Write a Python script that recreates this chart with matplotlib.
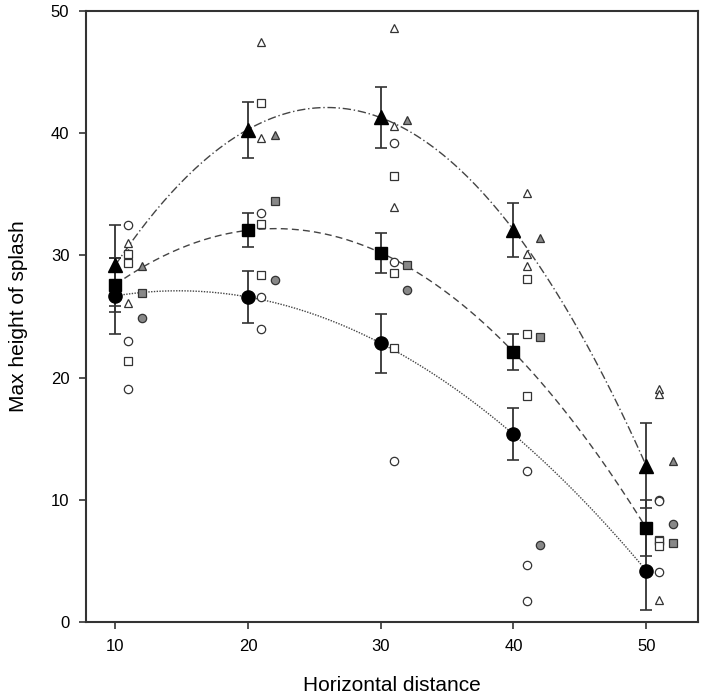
import numpy as np
import matplotlib
matplotlib.use("Agg")
import matplotlib.pyplot as plt

plt.rcParams['font.family'] = ['Liberation Sans', 'DejaVu Sans']

# horizontal distances
dist = [10, 20, 30, 40, 50]

# filled black means with error bars
tri_mean = [29.2, 40.3, 41.3, 32.1, 12.8]
tri_err = [3.3, 2.3, 2.5, 2.2, 3.5]
sq_mean = [27.6, 32.1, 30.2, 22.1, 7.7]
sq_err = [2.2, 1.4, 1.6, 1.5, 2.3]
ci_mean = [26.7, 26.6, 22.8, 15.4, 4.2]
ci_err = [3.1, 2.1, 2.4, 2.1, 3.2]

# replicate values (open symbols, plotted at distance + 1)
tri_reps = [[31.0, 30.2, 26.1], [47.5, 39.6, 32.6], [48.6, 40.6, 34.0],
            [35.1, 30.1, 29.1], [19.1, 18.7, 1.8]]
sq_reps = [[30.1, 29.4, 21.4], [42.5, 32.6, 28.4], [36.5, 28.6, 22.4],
           [28.1, 23.6, 18.5], [6.7, 6.6, 6.2]]
ci_reps = [[32.5, 23.0, 19.1], [33.5, 26.6, 24.0], [39.2, 29.5, 13.2],
           [12.4, 4.7, 1.7], [10.0, 9.9, 4.1]]

# grey symbols (plotted at distance + 2)
tri_grey = [29.1, 39.9, 41.1, 31.4, 13.2]
sq_grey = [26.9, 34.5, 29.2, 23.3, 6.5]
ci_grey = [24.9, 28.0, 27.2, 6.3, 8.0]

fig = plt.figure(figsize=(7.05, 6.95), dpi=100)
ax = fig.add_axes([0.122, 0.105, 0.868, 0.879])

dark = '#333333'
x = np.array(dist, dtype=float)

# fitted curves
xs = np.linspace(10, 50, 200)
for means, ls in [(tri_mean, (0, (6, 2, 1, 2))), (sq_mean, (0, (5, 3))), (ci_mean, (0, (1, 1)))]:
    coef = np.polyfit(x, means, 2)
    ax.plot(xs, np.polyval(coef, xs), color='#444444', lw=1.0, ls=ls, zorder=2)

# replicates
for reps, m in [(tri_reps, '^'), (sq_reps, 's'), (ci_reps, 'o')]:
    for xi, vals in zip(dist, reps):
        ax.plot([xi + 1] * len(vals), vals, ls='none', marker=m, ms=6,
                mfc='white', mec=dark, mew=0.9, zorder=3)

for vals, m in [(tri_grey, '^'), (sq_grey, 's'), (ci_grey, 'o')]:
    ax.plot(x + 2, vals, ls='none', marker=m, ms=6, mfc='#888888',
            mec=dark, mew=0.9, zorder=3)

# means with error bars
for means, errs, m, ms in [(tri_mean, tri_err, '^', 10), (sq_mean, sq_err, 's', 9),
                           (ci_mean, ci_err, 'o', 9.5)]:
    ax.errorbar(x, means, yerr=errs, fmt=m, ms=ms, color='black', ecolor='#333333',
                elinewidth=1.3, capsize=4, capthick=1.2, zorder=4)

ax.set_xlim(7.8, 53.9)
ax.set_ylim(0, 50)
ax.set_xticks(dist)
ax.set_yticks([0, 10, 20, 30, 40, 50])
ax.tick_params(direction='out', length=5, width=1.2, color=dark, labelsize=12, pad=7)
for s in ax.spines.values():
    s.set_linewidth(1.5)
    s.set_color(dark)

ax.set_xlabel('Horizontal distance', fontsize=15, labelpad=16)
ax.set_ylabel('Max height of splash', fontsize=15, labelpad=16)

fig.savefig('out.png', dpi=100)
